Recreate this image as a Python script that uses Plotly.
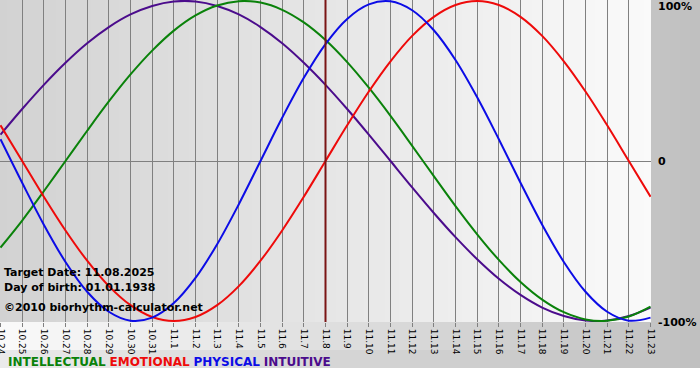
import plotly.graph_objects as go

# ---- data -------------------------------------------------------------
days = ["10.24", "10.25", "10.26", "10.27", "10.28", "10.29", "10.30", "10.31",
        "11.1", "11.2", "11.3", "11.4", "11.5", "11.6", "11.7", "11.8", "11.9",
        "11.10", "11.11", "11.12", "11.13", "11.14", "11.15", "11.16", "11.17",
        "11.18", "11.19", "11.20", "11.21", "11.22", "11.23"]

intellectual = [-54.1, -37.2, -18.9, 0.0, 18.9, 37.2, 54.1, 69.0, 81.5, 91.0, 97.2,
                99.9, 99.0, 94.5, 86.6, 75.6, 61.8, 45.8, 28.2, 9.5, -9.5, -28.2,
                -45.8, -61.8, -75.6, -86.6, -94.5, -99.0, -99.9, -97.2, -91.0]
emotional = [22.3, 0.0, -22.3, -43.4, -62.3, -78.2, -90.1, -97.5, -100.0, -97.5, -90.1,
             -78.2, -62.3, -43.4, -22.3, 0.0, 22.3, 43.4, 62.3, 78.2, 90.1, 97.5,
             100.0, 97.5, 90.1, 78.2, 62.3, 43.4, 22.3, 0.0, -22.3]
physical = [13.6, -13.6, -39.8, -63.1, -81.7, -94.2, -99.8, -97.9, -88.8, -73.1, -52.0,
            -27.0, 0.0, 27.0, 52.0, 73.1, 88.8, 97.9, 99.8, 94.2, 81.7, 63.1, 39.8,
            13.6, -13.6, -39.8, -63.1, -81.7, -94.2, -99.8, -97.9]
intuitive = [16.5, 32.5, 47.6, 61.4, 73.6, 83.7, 91.6, 96.9, 99.7, 99.7, 96.9, 91.6,
             83.7, 73.6, 61.4, 47.6, 32.5, 16.5, 0.0, -16.5, -32.5, -47.6, -61.4,
             -73.6, -83.7, -91.6, -96.9, -99.7, -99.7, -96.9, -91.6]

series_names = ["INTELLECTUAL", "EMOTIONAL", "PHYSICAL", "INTUITIVE"]
target_day = "11.8"
y_labels = ["100%", "0", "-100%"]
info_lines = ["Target Date: 11.08.2025", "Day of birth: 01.01.1938",
              "\u00a92010 biorhythm-calculator.net"]

# ---- styles -----------------------------------------------------------
COLORS = {"INTELLECTUAL": "#0a820a", "EMOTIONAL": "#ee0a0a",
          "PHYSICAL": "#0c0ce6", "INTUITIVE": "#4b0c8c"}
FONT = "DejaVu Sans"
W, H = 700, 380
PW, PH = 651, 322  # plot area in px (left=0, top=0)


def pxx(px):
    return px / PW


def pxy(py):
    return 1 - py / PH


xs = list(range(len(days)))
fig = go.Figure()

data = {"INTELLECTUAL": intellectual, "EMOTIONAL": emotional,
        "PHYSICAL": physical, "INTUITIVE": intuitive}
for name in ["INTUITIVE", "INTELLECTUAL", "EMOTIONAL", "PHYSICAL"]:
    fig.add_trace(go.Scatter(x=xs, y=data[name], mode="lines", name=name,
                             line=dict(color=COLORS[name], width=2, shape="spline"),
                             hoverinfo="skip", showlegend=False))

shapes = []
# outer background gradient (light at left -> grey at right)
step = 10
for px in range(0, W, step):
    t = (px + step / 2) / W
    c = int(round(250 + (192 - 250) * t))
    shapes.append(dict(type="rect", xref="paper", yref="paper",
                       x0=pxx(px), x1=pxx(px + step), y0=pxy(0), y1=pxy(368),
                       fillcolor=f"rgb({c},{c},{c})", line=dict(width=0), layer="below"))
# legend band slightly darker at left
for px in range(0, W, step):
    t = (px + step / 2) / W
    c = int(round(234 + (192 - 234) * t))
    shapes.append(dict(type="rect", xref="paper", yref="paper",
                       x0=pxx(px), x1=pxx(px + step), y0=pxy(350), y1=pxy(368),
                       fillcolor=f"rgb({c},{c},{c})", line=dict(width=0), layer="below"))
# plot area gradient (grey at left -> near white at right)
for px in range(0, PW, 7):
    x1 = min(px + 7, PW)
    t = (px + 3.5) / PW
    c = int(round(210 + (250 - 210) * t))
    shapes.append(dict(type="rect", xref="paper", yref="paper",
                       x0=pxx(px), x1=pxx(x1), y0=0, y1=1,
                       fillcolor=f"rgb({c},{c},{c})", line=dict(width=0), layer="below"))
fig.update_layout(shapes=shapes)

# target date marker
fig.add_vline(x=days.index(target_day), line=dict(color="#7a1414", width=2))

annotations = []
for txt, py in zip(info_lines, [272, 287, 307]):
    annotations.append(dict(text=f"<b>{txt}</b>", xref="paper", yref="paper",
                            x=pxx(2), y=pxy(py), xanchor="left", yanchor="middle",
                            showarrow=False, font=dict(family=FONT, size=11, color="#000000")))
for txt, py in zip(y_labels, [7, 162, 322]):
    annotations.append(dict(text=f"<b>{txt}</b>", xref="paper", yref="paper",
                            x=pxx(656), y=pxy(py), xanchor="left", yanchor="middle",
                            showarrow=False, font=dict(family=FONT, size=11, color="#000000")))
legend_txt = " ".join(f"<span style='color:{COLORS[n]}'><b>{n}</b></span>" for n in series_names)
annotations.append(dict(text=legend_txt, xref="paper", yref="paper",
                        x=pxx(6), y=pxy(362), xanchor="left", yanchor="middle",
                        showarrow=False, font=dict(family=FONT, size=12)))

fig.update_layout(
    width=W, height=H, autosize=False,
    margin=dict(l=0, r=W - PW, t=0, b=H - PH, pad=0),
    paper_bgcolor="#ffffff", plot_bgcolor="rgba(0,0,0,0)",
    annotations=annotations,
    xaxis=dict(range=[-0.5 / 21.667, 30 + 0.5 / 21.667], tickmode="array",
               tickvals=xs, ticktext=days, tickangle=90, ticklabeloverflow="allow",
               automargin=False,
               ticks="outside", ticklen=4, tickcolor="#808080", tickwidth=1,
               showgrid=True, gridcolor="#808080", gridwidth=1,
               zeroline=False, showline=False, fixedrange=True,
               tickfont=dict(family=FONT, size=9, color="#000000")),
    yaxis=dict(range=[-100.625, 100.625], tickmode="array", tickvals=[-100, 0, 100],
               showticklabels=False, showgrid=True, gridcolor="#808080", gridwidth=1,
               zeroline=False, showline=False, fixedrange=True, automargin=False),
)

fig.write_html("out.html", config={"displayModeBar": False},
               post_script="document.body.style.margin='0';document.body.style.overflow='hidden';")
